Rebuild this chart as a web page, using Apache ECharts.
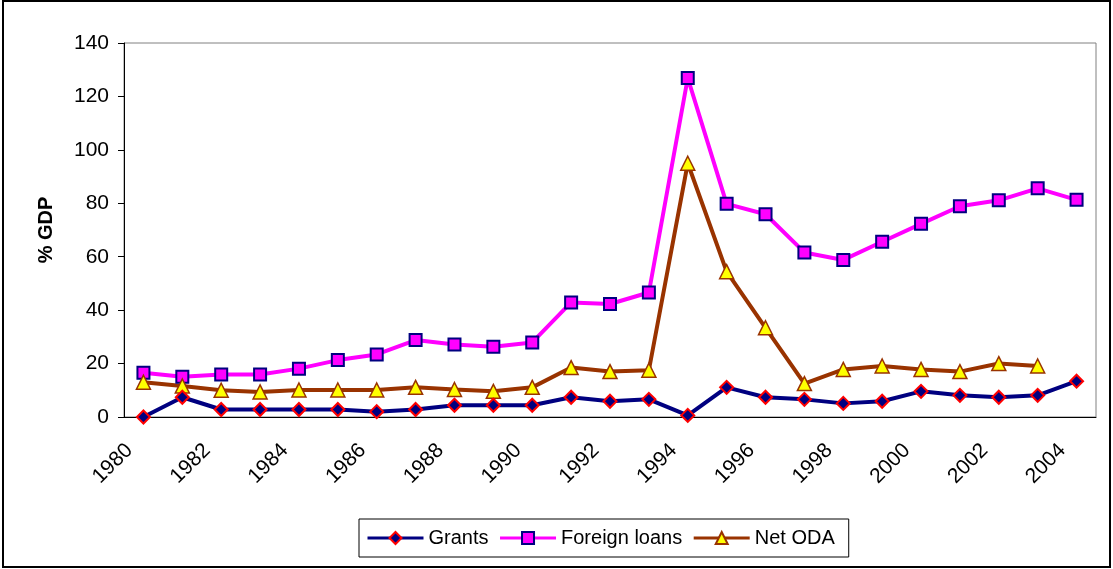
<!DOCTYPE html>
<html>
<head>
<meta charset="utf-8">
<script src="https://cdn.jsdelivr.net/npm/echarts@6/dist/echarts.min.js"></script>
<style>
  html, body { margin: 0; padding: 0; background: #fff; }
  #chart { width: 1113px; height: 569px; }
</style>
</head>
<body>
<div id="chart"></div>
<script>
var years = ['1980', '1981', '1982', '1983', '1984', '1985', '1986', '1987', '1988', '1989',
    '1990', '1991', '1992', '1993', '1994', '1995', '1996', '1997', '1998', '1999',
    '2000', '2001', '2002', '2003', '2004'];
var grants = [0, 7.4, 2.8, 2.8, 2.8, 2.8, 2.0, 2.8, 4.4, 4.4,
    4.4, 7.4, 5.9, 6.6, 0.6, 11.1, 7.4, 6.6, 5.1, 5.9,
    9.6, 8.1, 7.4, 8.1, 13.4];
var foreignLoans = [16.6, 15.1, 15.9, 15.9, 18.1, 21.3, 23.4, 28.8, 27.1, 26.3,
    27.9, 42.9, 42.3, 46.6, 126.9, 79.8, 75.9, 61.6, 58.8, 65.6,
    72.3, 78.9, 81.1, 85.6, 81.3];
var netODA = [13, 11.6, 10.0, 9.4, 10.1, 10.1, 10.1, 11.1, 10.3, 9.6,
    11.1, 18.5, 17.0, 17.5, 95.0, 54.4, 33.4, 12.5, 17.8, 19.1,
    17.8, 17.0, 20.0, 19.1, null];

var dom = document.getElementById('chart');
var myChart = echarts.init(dom);
var font = '"Liberation Sans", Arial, sans-serif';

var option = {
    animation: false,
    backgroundColor: '#fff',
    textStyle: { fontFamily: font },
    graphic: [{
        type: 'rect',
        shape: { x: 3, y: 1, width: 1107, height: 566 },
        style: { fill: 'none', stroke: '#000', lineWidth: 2 },
        silent: true
    }],
    grid: {
        left: 124, top: 43, right: 17, bottom: 152,
        show: true, borderColor: '#808080', borderWidth: 1
    },
    legend: {
        left: 359, top: 519,
        width: 483,
        backgroundColor: '#fff',
        borderColor: '#000', borderWidth: 1,
        padding: [9, 14, 9, 7],
        itemGap: 10,
        itemWidth: 56, itemHeight: 15,
        lineStyle: { width: 3 },
        textStyle: { fontFamily: font, fontSize: 20, color: '#000' },
        data: ['Grants', 'Foreign loans', 'Net ODA']
    },
    xAxis: {
        type: 'category',
        data: years,
        boundaryGap: true,
        axisLine: { lineStyle: { color: '#000', width: 1 } },
        axisTick: { interval: 0, length: 6, lineStyle: { color: '#000' } },
        axisLabel: {
            interval: 1, rotate: 45, margin: 16,
            padding: [0, 20, 0, 0],
            fontSize: 21, color: '#000', fontFamily: font
        },
        splitLine: { show: false }
    },
    yAxis: {
        type: 'value',
        min: 0, max: 140, interval: 20,
        name: '% GDP',
        nameLocation: 'middle',
        nameRotate: 90,
        nameGap: 68,
        nameTextStyle: { fontSize: 20, fontWeight: 'bold', color: '#000', fontFamily: font },
        axisLine: { show: true, lineStyle: { color: '#000', width: 1 } },
        axisTick: { show: true, length: 6, lineStyle: { color: '#000' } },
        axisLabel: { fontSize: 21, color: '#000', margin: 15, fontFamily: font },
        splitLine: { show: false }
    },
    series: [{
        name: 'Grants',
        type: 'line',
        data: grants,
        symbol: 'diamond',
        symbolSize: 13,
        lineStyle: { color: '#000080', width: 4 },
        itemStyle: { color: '#000080', borderColor: '#ff0000', borderWidth: 2 },
        z: 3
    }, {
        name: 'Foreign loans',
        type: 'line',
        data: foreignLoans,
        symbol: 'rect',
        symbolSize: 12,
        lineStyle: { color: '#ff00ff', width: 4 },
        itemStyle: { color: '#ff00ff', borderColor: '#000080', borderWidth: 2 },
        z: 2
    }, {
        name: 'Net ODA',
        type: 'line',
        data: netODA,
        symbol: 'triangle',
        symbolSize: 14,
        lineStyle: { color: '#993300', width: 4 },
        itemStyle: { color: '#ffff00', borderColor: '#993300', borderWidth: 1.5 },
        z: 2
    }]
};

if (option && typeof option === 'object') {
    myChart.setOption(option, true);
}
</script>
</body>
</html>
